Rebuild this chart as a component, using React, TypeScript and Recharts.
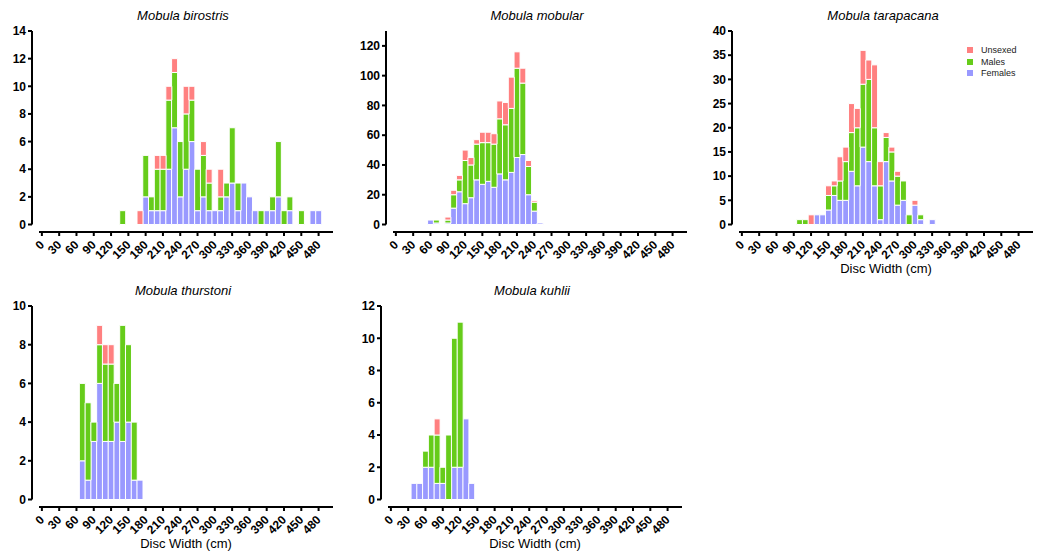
import React from 'react';
import { BarChart, Bar, XAxis, YAxis, Legend } from 'recharts';

const bins = [0, 10, 20, 30, 40, 50, 60, 70, 80, 90, 100, 110, 120, 130, 140, 150, 160, 170, 180, 190, 200, 210, 220, 230, 240, 250, 260, 270, 280, 290, 300, 310, 320, 330, 340, 350, 360, 370, 380, 390, 400, 410, 420, 430, 440, 450, 460, 470, 480, 490, 500];
const xTicks = [0, 30, 60, 90, 120, 150, 180, 210, 240, 270, 300, 330, 360, 390, 420, 450, 480];

// Mobula birostris
const birostrisBins = [140, 170, 180, 190, 200, 210, 220, 230, 240, 250, 260, 270, 280, 290, 300, 310, 320, 330, 340, 350, 360, 370, 380, 390, 400, 410, 420, 430, 450, 470, 480];
const birostrisFemales = [0, 0, 2, 1, 1, 1, 4, 7, 2, 4, 6, 1, 2, 1, 1, 1, 2, 3, 1, 3, 2, 1, 0, 1, 1, 2, 0, 1, 0, 1, 1];
const birostrisMales = [1, 0, 3, 1, 3, 3, 5, 4, 4, 4, 3, 3, 3, 2, 0, 1, 1, 4, 2, 0, 0, 0, 1, 0, 1, 4, 1, 1, 1, 0, 0];
const birostrisUnsexed = [0, 1, 0, 0, 1, 1, 1, 1, 0, 2, 1, 0, 1, 1, 0, 2, 0, 0, 0, 0, 0, 0, 0, 0, 0, 0, 0, 0, 0, 0, 0];

// Mobula mobular
const mobularBins = [60, 70, 90, 100, 110, 120, 130, 140, 150, 160, 170, 180, 190, 200, 210, 220, 230, 240, 250];
const mobularFemales = [3, 1, 1, 11, 22, 14, 18, 30, 27, 29, 25, 34, 30, 35, 45, 47, 20, 9, 1];
const mobularMales = [0, 2, 2, 9, 8, 29, 22, 24, 28, 26, 29, 37, 37, 43, 60, 48, 19, 6, 0];
const mobularUnsexed = [0, 0, 2, 3, 3, 7, 5, 3, 7, 7, 7, 12, 15, 21, 11, 10, 4, 1, 0];

// Mobula tarapacana
const tarapacanaBins = [100, 110, 120, 130, 140, 150, 160, 170, 180, 190, 200, 210, 220, 230, 240, 250, 260, 270, 280, 290, 300, 310, 330];
const tarapacanaFemales = [0, 0, 0, 2, 2, 3, 6, 5, 5, 11, 8, 16, 13, 8, 1, 13, 9, 4, 5, 0, 4, 1, 1];
const tarapacanaMales = [1, 1, 0, 0, 0, 3, 2, 4, 8, 8, 12, 13, 17, 12, 7, 5, 6, 6, 4, 2, 0, 1, 0];
const tarapacanaUnsexed = [0, 0, 2, 0, 0, 2, 1, 5, 3, 6, 4, 7, 4, 13, 5, 1, 1, 1, 0, 0, 1, 0, 0];

// Mobula thurstoni
const thurstoniBins = [70, 80, 90, 100, 110, 120, 130, 140, 150, 160, 170];
const thurstoniFemales = [2, 1, 3, 6, 3, 3, 4, 3, 4, 1, 1];
const thurstoniMales = [4, 4, 1, 2, 4, 4, 2, 6, 4, 3, 0];
const thurstoniUnsexed = [0, 0, 0, 1, 1, 1, 0, 0, 0, 0, 0];

// Mobula kuhlii
const kuhliiBins = [40, 50, 60, 70, 80, 90, 100, 110, 120, 130, 140];
const kuhliiFemales = [1, 1, 2, 2, 1, 1, 0, 2, 2, 5, 1];
const kuhliiMales = [0, 0, 1, 2, 3, 1, 4, 8, 9, 0, 0];
const kuhliiUnsexed = [0, 0, 0, 0, 1, 0, 0, 0, 0, 0, 0];

const COLORS = { unsexed: '#FF8080', males: '#66CC1A', females: '#9999FF' };
const FONT = '"Liberation Sans", Arial, Helvetica, sans-serif';

function build(sb: number[], f: number[], m: number[], u: number[]) {
  return bins.map((b) => {
    const i = sb.indexOf(b);
    return {
      bin: b,
      females: i >= 0 ? f[i] : 0,
      males: i >= 0 ? m[i] : 0,
      unsexed: i >= 0 ? u[i] : 0,
    };
  });
}

const panels = [
  { title: 'Mobula birostris', data: build(birostrisBins, birostrisFemales, birostrisMales, birostrisUnsexed), yMax: 14, yTicks: [0, 2, 4, 6, 8, 10, 12, 14], left: 39, top: 31, xLabel: false, legend: false },
  { title: 'Mobula mobular', data: build(mobularBins, mobularFemales, mobularMales, mobularUnsexed), yMax: 130, yTicks: [0, 20, 40, 60, 80, 100, 120], left: 393, top: 31, xLabel: false, legend: false },
  { title: 'Mobula tarapacana', data: build(tarapacanaBins, tarapacanaFemales, tarapacanaMales, tarapacanaUnsexed), yMax: 40, yTicks: [0, 5, 10, 15, 20, 25, 30, 35, 40], left: 739, top: 31, xLabel: true, legend: true },
  { title: 'Mobula thurstoni', data: build(thurstoniBins, thurstoniFemales, thurstoniMales, thurstoniUnsexed), yMax: 10, yTicks: [0, 2, 4, 6, 8, 10], left: 39, top: 306, xLabel: true, legend: false },
  { title: 'Mobula kuhlii', data: build(kuhliiBins, kuhliiFemales, kuhliiMales, kuhliiUnsexed), yMax: 12, yTicks: [0, 2, 4, 6, 8, 10, 12], left: 388, top: 306, xLabel: true, legend: false },
];

const PLOT_W = 294;
const PLOT_H = 193.5;
const Y_W = 40;
const X_H = 40;
const M_TOP = 10;
const M_RIGHT = 10;
const X_SHIFT = 7.5;
const Y_SHIFT = 7;

const XTick = (props: any) => {
  const { x, y, payload } = props;
  return (
    <g transform={`translate(${x + 3},${y + X_SHIFT + 7.5}) rotate(-45)`}>
      <text x={0} y={0} textAnchor="end" fill="#000" fontSize={12} fontWeight={700} fontFamily={FONT}>
        {payload.value}
      </text>
    </g>
  );
};

const YTick = (props: any) => {
  const { x, y, payload } = props;
  return (
    <text x={x - Y_SHIFT} y={y} dy="0.355em" textAnchor="end" fill="#000" fontSize={12} fontWeight={700} fontFamily={FONT}>
      {payload.value}
    </text>
  );
};

const order = ['unsexed', 'males', 'females'];
const LegendContent = (props: any) => {
  const items = [...(props.payload || [])].sort(
    (a: any, b: any) => order.indexOf(a.dataKey) - order.indexOf(b.dataKey)
  );
  return (
    <div style={{ fontFamily: FONT, fontSize: 9, color: '#222' }}>
      {items.map((it: any) => (
        <div key={it.dataKey} style={{ display: 'flex', alignItems: 'center', height: 11.7 }}>
          <span style={{ display: 'inline-block', width: 6, height: 6, background: it.color, marginRight: 8 }} />
          <span>{it.value}</span>
        </div>
      ))}
    </div>
  );
};

export default function App() {
  return (
    <div style={{ position: 'relative', width: 1042, height: 554, background: '#fff', fontFamily: FONT, overflow: 'hidden' }}>
      <style>{`
        body { margin: 0; }
        .recharts-surface { overflow: visible; }
        .xax, .recharts-xAxis { transform: translate(0px, ${X_SHIFT}px); }
        .yax, .recharts-yAxis { transform: translate(-${Y_SHIFT}px, 0px); }
      `}</style>
      {panels.map((p) => (
        <React.Fragment key={p.title}>
          <div
            style={{
              position: 'absolute',
              left: p.left - 3,
              top: p.top - 23,
              width: PLOT_W,
              textAlign: 'center',
              fontStyle: 'italic',
              fontSize: 13,
              lineHeight: '15px',
              color: '#000',
            }}
          >
            {p.title}
          </div>
          <div style={{ position: 'absolute', left: p.left - Y_W, top: p.top - M_TOP }}>
            <BarChart
              width={Y_W + PLOT_W + M_RIGHT}
              height={M_TOP + PLOT_H + X_H}
              data={p.data}
              margin={{ top: M_TOP, right: M_RIGHT, bottom: 0, left: 0 }}
              barCategoryGap={0}
              barGap={0}
            >
              <XAxis
                className="xax"
                dataKey="bin"
                type="category"
                ticks={xTicks}
                interval={0}
                height={X_H}
                tick={<XTick />}
                tickSize={4}
                tickMargin={2}
                axisLine={{ stroke: '#000', strokeWidth: 2 }}
                tickLine={{ stroke: '#000', strokeWidth: 2 }}
              />
              <YAxis
                className="yax"
                type="number"
                domain={[0, p.yMax]}
                ticks={p.yTicks}
                interval={0}
                width={Y_W}
                tickSize={4}
                tickMargin={2}
                axisLine={{ stroke: '#000', strokeWidth: 2 }}
                tickLine={{ stroke: '#000', strokeWidth: 2 }}
                tick={<YTick />}
              />
              {p.legend && (
                <Legend
                  layout="vertical"
                  align="center"
                  verticalAlign="middle"
                  content={<LegendContent />}
                  wrapperStyle={{ left: 268, top: 23, width: 'auto' }}
                />
              )}
              <Bar dataKey="females" name="Females" stackId="s" fill={COLORS.females} stroke="#fff" strokeWidth={1} isAnimationActive={false} />
              <Bar dataKey="males" name="Males" stackId="s" fill={COLORS.males} stroke="#fff" strokeWidth={1} isAnimationActive={false} />
              <Bar dataKey="unsexed" name="Unsexed" stackId="s" fill={COLORS.unsexed} stroke="#fff" strokeWidth={1} isAnimationActive={false} />
            </BarChart>
          </div>
          {p.xLabel && (
            <div
              style={{
                position: 'absolute',
                left: p.left,
                top: p.top + PLOT_H + 36,
                width: PLOT_W,
                textAlign: 'center',
                fontSize: 13,
                lineHeight: '15px',
                color: '#000',
              }}
            >
              Disc Width (cm)
            </div>
          )}
        </React.Fragment>
      ))}
    </div>
  );
}
